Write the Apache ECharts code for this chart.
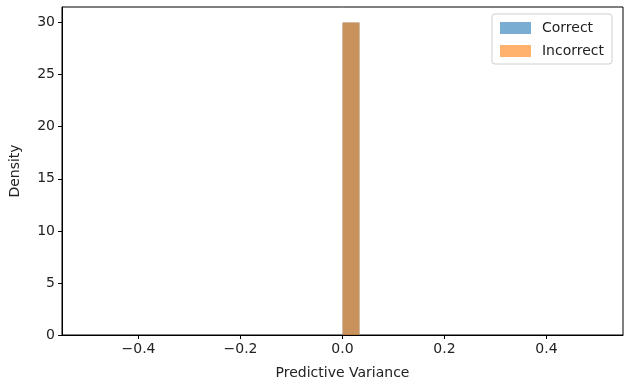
<!DOCTYPE html>
<html>
<head>
<meta charset="utf-8">
<script src="https://cdn.jsdelivr.net/npm/echarts@6/dist/echarts.min.js"></script>
<style>
  html, body { margin: 0; padding: 0; background: #fff; }
  #chart { width: 630px; height: 385px; }
</style>
</head>
<body>
<div id="chart"></div>
<script>
// histogram: 30 bins over [-0.5, 0.5]
const binStart = -0.5;
const binWidth = 1 / 30;
const correctDensity = [0,0,0,0,0,0,0,0,0,0,0,0,0,0,0,30,0,0,0,0,0,0,0,0,0,0,0,0,0,0];
const incorrectDensity = [0,0,0,0,0,0,0,0,0,0,0,0,0,0,0,30,0,0,0,0,0,0,0,0,0,0,0,0,0,0];
const xTicks = [-0.4, -0.2, 0.0, 0.2, 0.4];
const yTicks = [0, 5, 10, 15, 20, 25, 30];

const font = 'DejaVu Sans';

function toBins(values) {
  return values.map((v, i) => [binStart + i * binWidth, binStart + (i + 1) * binWidth, v]);
}

function renderBar(params, api) {
  const h = api.value(2);
  if (!h) return null;
  const p0 = api.coord([api.value(0), h]);
  const p1 = api.coord([api.value(1), 0]);
  return {
    type: 'rect',
    shape: { x: p0[0], y: p0[1], width: p1[0] - p0[0], height: p1[1] - p0[1] },
    style: { fill: api.visual('color'), opacity: 0.6 }
  };
}

const chart = echarts.init(document.getElementById('chart'));

chart.setOption({
  animation: false,
  textStyle: { fontFamily: font },
  grid: {
    left: 56, right: 7, top: 7, bottom: 48,
    show: true, borderColor: '#000', borderWidth: 1, backgroundColor: '#fff'
  },
  legend: {
    right: 18, top: 14,
    orient: 'vertical',
    itemWidth: 31, itemHeight: 12, itemGap: 9,
    icon: 'rect',
    padding: [7, 8, 6, 8],
    borderColor: '#d0d0d0', borderWidth: 1, borderRadius: 3,
    backgroundColor: '#fff',
    textStyle: { fontFamily: font, fontSize: 14, color: '#222', padding: [0, 0, 0, 6] },
    data: [
      { name: 'Correct', itemStyle: { color: 'rgba(31,119,180,0.6)' } },
      { name: 'Incorrect', itemStyle: { color: 'rgba(255,127,14,0.6)' } }
    ]
  },
  xAxis: {
    type: 'value',
    min: -0.55, max: 0.55,
    name: 'Predictive Variance',
    nameLocation: 'middle', nameGap: 31,
    nameTextStyle: { fontFamily: font, fontSize: 14, color: '#222' },
    axisLine: { show: true, onZero: false, lineStyle: { color: '#000' } },
    axisTick: { show: true, customValues: xTicks, length: 4, lineStyle: { color: '#000' } },
    axisLabel: {
      customValues: xTicks, color: '#222', fontSize: 14, margin: 7,
      formatter: v => (v < 0 ? '\u2212' : '') + Math.abs(v).toFixed(1)
    },
    splitLine: { show: false }
  },
  yAxis: {
    type: 'value',
    min: 0, max: 31.5,
    name: 'Density',
    nameLocation: 'middle', nameGap: 40,
    nameTextStyle: { fontFamily: font, fontSize: 14, color: '#222' },
    axisLine: { show: true, onZero: false, lineStyle: { color: '#000' } },
    axisTick: { show: true, customValues: yTicks, length: 4, lineStyle: { color: '#000' } },
    axisLabel: { customValues: yTicks, color: '#222', fontSize: 14, margin: 7 },
    splitLine: { show: false }
  },
  series: [
    {
      name: 'Correct', type: 'custom',
      itemStyle: { color: '#1f77b4' },
      encode: { x: [0, 1], y: 2 },
      renderItem: renderBar,
      data: toBins(correctDensity)
    },
    {
      name: 'Incorrect', type: 'custom',
      itemStyle: { color: '#ff7f0e' },
      encode: { x: [0, 1], y: 2 },
      renderItem: renderBar,
      data: toBins(incorrectDensity)
    }
  ]
});
</script>
</body>
</html>
